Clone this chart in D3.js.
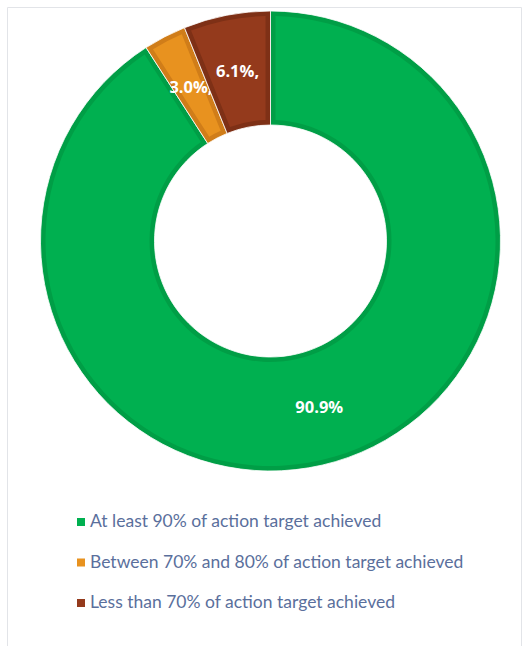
<!DOCTYPE html>
<html>
<head>
<meta charset="utf-8">
<script src="https://cdn.jsdelivr.net/npm/d3@7/dist/d3.min.js"></script>
<style>
  html, body { margin: 0; padding: 0; background: #ffffff; }
  svg { display: block; }
</style>
</head>
<body>
<svg id="chart" width="525" height="646"></svg>
<script>
// ---- data ----
const categories = [
  "At least 90% of action target achieved",
  "Between 70% and 80% of action target achieved",
  "Less than 70% of action target achieved"
];
const values = [90.9, 3.0, 6.1];
const valueLabels = ["90.9%", "3.0%,", "6.1%,"];
const fillColors = ["#00b050", "#e8921f", "#943a1c"];
const edgeColors = ["#009e46", "#d07d19", "#7e3016"];

// ---- layout ----
const W = 525, H = 646;
const cx = 270.5, cy = 241;
const rOuter = 230, rInner = 116;
const inset = 5;

const svg = d3.select("#chart");

// frame
svg.append("path")
  .attr("d", `M7.5,646 V7.5 H521.5 V646`)
  .attr("fill", "none")
  .attr("stroke", "#e2e4e8")
  .attr("stroke-width", 1);

const pie = d3.pie().sort(null).value(d => d)(values);

const g = svg.append("g").attr("transform", `translate(${cx},${cy})`);

const arcOuter = d3.arc().innerRadius(rInner).outerRadius(rOuter);
const arcInner = d3.arc()
  .innerRadius(rInner + inset)
  .outerRadius(rOuter - inset)
  .padRadius(100)
  .padAngle(2 * inset / 100);
const arcLabel = d3.arc()
  .innerRadius((rInner + rOuter) / 2)
  .outerRadius((rInner + rOuter) / 2);

const slices = g.selectAll("g.slice").data(pie).enter().append("g").attr("class", "slice");

slices.append("path")
  .attr("d", arcOuter)
  .attr("fill", (d, i) => edgeColors[i])
  .attr("stroke", "#ffffff")
  .attr("stroke-width", 0.8);

slices.append("path")
  .attr("d", arcInner)
  .attr("fill", (d, i) => fillColors[i]);

slices.append("text")
  .attr("transform", d => `translate(${arcLabel.centroid(d)})`)
  .attr("text-anchor", "middle")
  .attr("dy", "0.36em")
  .attr("fill", "#ffffff")
  .attr("font-family", "'Open Sans', 'DejaVu Sans', sans-serif")
  .attr("font-weight", "bold")
  .attr("font-size", 16.5)
  .text((d, i) => valueLabels[i]);

// ---- legend ----
const legendX = 77, legendY0 = 527, legendStep = 40.5;
const legend = svg.append("g");
categories.forEach((c, i) => {
  const y = legendY0 + i * legendStep;
  legend.append("rect")
    .attr("x", legendX)
    .attr("y", y - 9)
    .attr("width", 8)
    .attr("height", 8)
    .attr("fill", fillColors[i]);
  legend.append("text")
    .attr("x", legendX + 13)
    .attr("y", y)
    .attr("fill", "#5a6f9c")
    .attr("font-family", "Lato, 'Open Sans', sans-serif")
    .attr("font-size", 17.5)
    .text(c);
});
</script>
</body>
</html>
